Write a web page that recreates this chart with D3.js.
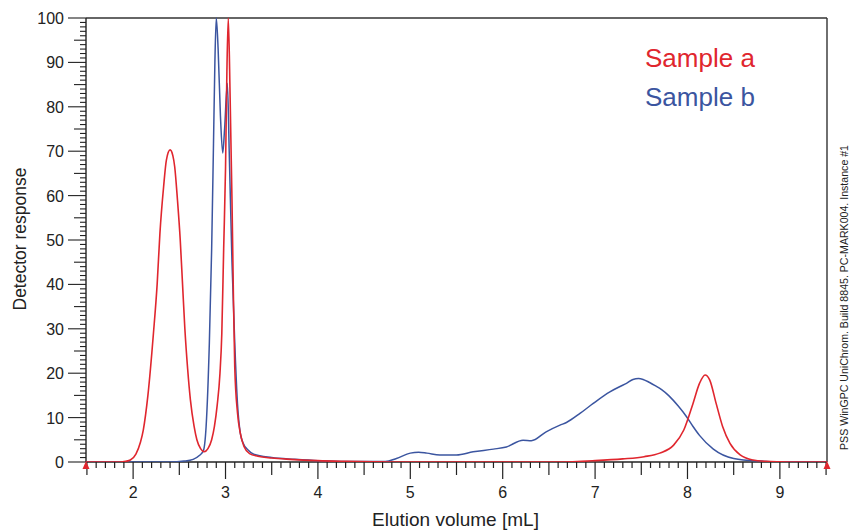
<!DOCTYPE html>
<html>
<head>
<meta charset="utf-8">
<script src="https://cdn.jsdelivr.net/npm/d3@7"></script>
<style>
  html, body { margin: 0; padding: 0; background: #fff; }
  svg { display: block; font-family: "Liberation Sans", Arial, sans-serif; }
</style>
</head>
<body>
<svg id="chart" width="849" height="531"></svg>
<script>
// ---- Data ----
const sampleAX = [1.49, 1.85, 1.92, 1.97, 2.03, 2.08, 2.11, 2.16, 2.22, 2.26, 2.29, 2.33, 2.36, 2.40, 2.43, 2.45, 2.48, 2.51, 2.535, 2.56, 2.59, 2.62, 2.66, 2.69, 2.73, 2.77, 2.81, 2.85, 2.88, 2.91, 2.94, 2.96, 2.98, 3.00, 3.015, 3.03, 3.05, 3.07, 3.085, 3.10, 3.13, 3.16, 3.20, 3.26, 3.35, 3.5, 3.7, 4.0, 4.3, 4.6, 4.8, 6.6, 7.0, 7.3, 7.53, 7.70, 7.85, 7.96, 8.06, 8.13, 8.19, 8.24, 8.31, 8.38, 8.46, 8.57, 8.71, 8.85, 9.0, 9.2, 9.51];
const sampleAY = [0, 0, 0.15, 0.45, 1.8, 4.5, 7.2, 15, 29, 40, 51.5, 62, 68, 70.3, 69, 66.5, 59, 50, 40, 30, 21, 14, 8, 5, 3, 2.3, 3, 5, 8, 12.8, 20, 29, 48, 66, 88, 100, 82, 59, 38, 21.4, 11, 6.5, 3.5, 1.9, 1.3, 0.9, 0.6, 0.3, 0.15, 0.05, 0, 0, 0.3, 0.7, 1.2, 2.0, 3.8, 7.2, 13.2, 17.7, 19.6, 18.5, 13.2, 8.0, 4.2, 1.6, 0.45, 0.15, 0.05, 0, 0];

const sampleBX = [1.49, 2.4, 2.55, 2.65, 2.72, 2.76, 2.79, 2.825, 2.85, 2.87, 2.885, 2.90, 2.92, 2.945, 2.97, 2.99, 3.02, 3.04, 3.07, 3.10, 3.13, 3.16, 3.19, 3.25, 3.3, 3.5, 3.75, 4.0, 4.5, 4.73, 4.85, 5.0, 5.09, 5.18, 5.32, 5.50, 5.68, 5.90, 6.04, 6.22, 6.31, 6.47, 6.62, 6.69, 6.84, 6.98, 7.16, 7.27, 7.34, 7.41, 7.47, 7.52, 7.59, 7.65, 7.72, 7.80, 7.90, 7.99, 8.06, 8.13, 8.28, 8.50, 8.79, 9.0, 9.51];
const sampleBY = [0, 0, 0.2, 0.6, 1.5, 2.5, 8, 26.8, 48, 71.8, 90, 100, 93, 78, 69.6, 75, 85.3, 70, 45, 26.8, 13, 6.5, 4.3, 2.6, 1.8, 1.0, 0.6, 0.3, 0.1, 0.1, 0.8, 2.0, 2.2, 2.0, 1.6, 1.6, 2.3, 2.9, 3.4, 4.9, 4.8, 6.8, 8.3, 8.9, 11.0, 13.2, 15.8, 17.0, 17.7, 18.6, 18.8, 18.6, 17.9, 17.2, 16.3, 14.9, 12.6, 10.2, 8.0, 6.0, 2.9, 0.8, 0.2, 0.05, 0];

const seriesNames = ["Sample a", "Sample b"];
const xTickLabels = [2, 3, 4, 5, 6, 7, 8, 9];
const yTickLabels = [0, 10, 20, 30, 40, 50, 60, 70, 80, 90, 100];
const xDomain = [1.49, 9.51];
const yDomain = [0, 100];
const xLabel = "Elution volume [mL]";
const yLabel = "Detector response";
const sideNote = "PSS WinGPC UniChrom. Build 8845. PC-MARK004. Instance #1";

(function () {
// ---- Layout ----
const colors = ["#e0262e", "#3b55a0"];
const pL = 86, pR = 827, pT = 18, pB = 462;

const svg = d3.select("#chart");
const x = d3.scaleLinear().domain(xDomain).range([pL, pR]);
const y = d3.scaleLinear().domain(yDomain).range([pB, pT]);

// frame top and right
svg.append("line").attr("x1", pL).attr("x2", pR).attr("y1", pT).attr("y2", pT)
  .attr("stroke", "#333").attr("stroke-width", 1.6);
svg.append("line").attr("x1", pR).attr("x2", pR).attr("y1", pT).attr("y2", pB)
  .attr("stroke", "#333").attr("stroke-width", 1.4);

// X axis ticks
const xMinor = d3.range(15, 96).map(d => d / 10);
const gx = svg.append("g");
gx.selectAll("line").data(xMinor).join("line")
  .attr("x1", d => x(d)).attr("x2", d => x(d))
  .attr("y1", pB)
  .attr("y2", d => {
    const r = Math.round(d * 10);
    if (r % 10 === 0) return pB + 17;
    if (r % 5 === 0) return pB + 13;
    return pB + 6;
  })
  .attr("stroke", "#222").attr("stroke-width", 1.2);
gx.append("line").attr("x1", pL).attr("x2", pR).attr("y1", pB).attr("y2", pB)
  .attr("stroke", "#222").attr("stroke-width", 1.4);
gx.selectAll("text").data(xTickLabels).join("text")
  .attr("x", d => x(d)).attr("y", 498)
  .attr("text-anchor", "middle").attr("font-size", 16).attr("fill", "#222")
  .text(d => d);

// Y axis ticks
const yMinor = d3.range(0, 101);
const gy = svg.append("g");
gy.selectAll("line").data(yMinor).join("line")
  .attr("y1", d => y(d)).attr("y2", d => y(d))
  .attr("x1", pL)
  .attr("x2", d => d % 10 === 0 ? pL - 18 : (d % 5 === 0 ? pL - 12 : pL - 6))
  .attr("stroke", "#222").attr("stroke-width", 1.1);
gy.append("line").attr("x1", pL).attr("x2", pL).attr("y1", pT).attr("y2", pB)
  .attr("stroke", "#222").attr("stroke-width", 1.4);
gy.selectAll("text").data(yTickLabels).join("text")
  .attr("x", 64).attr("y", d => y(d) + 6)
  .attr("text-anchor", "end").attr("font-size", 16).attr("fill", "#222")
  .text(d => d);

// Axis titles
svg.append("text").attr("x", 455.5).attr("y", 526)
  .attr("text-anchor", "middle").attr("font-size", 19).attr("fill", "#222")
  .text(xLabel);
svg.append("text").attr("transform", "translate(26,239) rotate(-90)")
  .attr("text-anchor", "middle").attr("font-size", 17.5).attr("fill", "#222")
  .text(yLabel);
svg.append("text").attr("transform", "translate(848,297.5) rotate(-90)")
  .attr("text-anchor", "middle").attr("font-size", 10.6).attr("fill", "#222")
  .text(sideNote);

// Curves
svg.append("clipPath").attr("id", "plotclip").append("rect")
  .attr("x", pL).attr("y", pT - 1).attr("width", pR - pL).attr("height", pB - pT + 1);
const line = d3.line().x(d => x(d[0])).y(d => y(d[1])).curve(d3.curveMonotoneX);
const dataA = sampleAX.map((v, i) => [v, sampleAY[i]]);
const dataB = sampleBX.map((v, i) => [v, sampleBY[i]]);
const gc = svg.append("g").attr("clip-path", "url(#plotclip)");
gc.append("path").datum(dataB).attr("d", line)
  .attr("fill", "none").attr("stroke", colors[1]).attr("stroke-width", 1.5);
gc.append("path").datum(dataA).attr("d", line)
  .attr("fill", "none").attr("stroke", colors[0]).attr("stroke-width", 1.6);

// Integration markers (red triangles at axis ends)
[xDomain[0], xDomain[1]].forEach(v => {
  const px = x(v);
  svg.append("path")
    .attr("d", `M${px},${pB - 1} L${px - 3.5},${pB + 7} L${px + 3.5},${pB + 7} Z`)
    .attr("fill", colors[0]);
});

// Legend
seriesNames.forEach((n, i) => {
  svg.append("text").attr("x", 645).attr("y", 67 + i * 39)
    .attr("font-size", 26).attr("fill", colors[i]).text(n);
});
})();
</script>
</body>
</html>
